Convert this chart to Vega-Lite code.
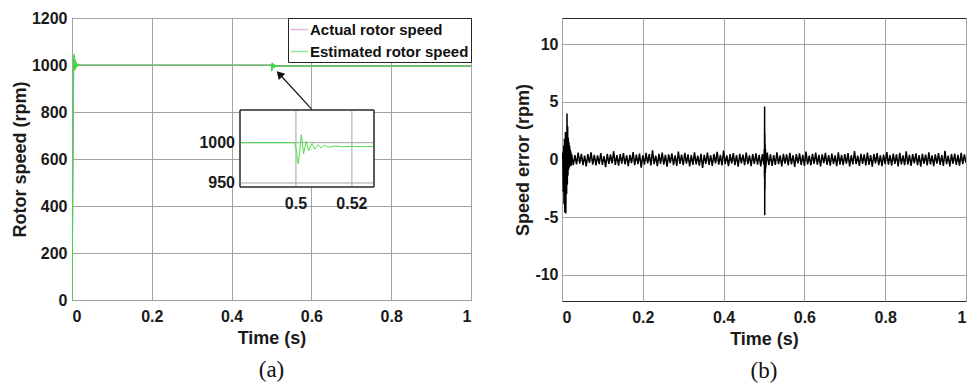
{
  "$schema": "https://vega.github.io/schema/vega-lite/v6.json",
  "padding": {"left": 10, "top": 9, "right": 4, "bottom": 0},
  "background": "white",
  "config": {
    "font": "Liberation Sans",
    "view": {"stroke": "#262626", "strokeWidth": 1},
    "axis": {
      "domain": false, "ticks": false, "grid": true, "gridColor": "#a3a3a3", "gridOpacity": 1,
      "labelFont": "Liberation Sans", "labelFontWeight": "bold", "labelFontSize": 16, "labelColor": "#1a1a1a",
      "titleFont": "Liberation Sans", "titleFontWeight": "bold", "titleFontSize": 18, "titleColor": "#1a1a1a"
    },
    "axisX": {"labelPadding": 8, "titlePadding": 5},
    "axisY": {"labelPadding": 5, "titlePadding": 2}
  },
  "datasets": {
    "speed": [
      {"t": 0, "v": 0, "s": "Actual rotor speed"},
      {"t": 0.002, "v": 500, "s": "Actual rotor speed"},
      {"t": 0.004, "v": 990, "s": "Actual rotor speed"},
      {"t": 0.0055, "v": 1040, "s": "Actual rotor speed"},
      {"t": 0.0075, "v": 985, "s": "Actual rotor speed"},
      {"t": 0.0095, "v": 1010, "s": "Actual rotor speed"},
      {"t": 0.012, "v": 998, "s": "Actual rotor speed"},
      {"t": 0.02, "v": 1000, "s": "Actual rotor speed"},
      {"t": 0.4995, "v": 1000, "s": "Actual rotor speed"},
      {"t": 0.5008, "v": 976, "s": "Actual rotor speed"},
      {"t": 0.5019, "v": 1008, "s": "Actual rotor speed"},
      {"t": 0.5027, "v": 987, "s": "Actual rotor speed"},
      {"t": 0.5037, "v": 1001, "s": "Actual rotor speed"},
      {"t": 0.5045, "v": 991, "s": "Actual rotor speed"},
      {"t": 0.5058, "v": 998, "s": "Actual rotor speed"},
      {"t": 0.5067, "v": 993, "s": "Actual rotor speed"},
      {"t": 0.508, "v": 997, "s": "Actual rotor speed"},
      {"t": 0.51, "v": 995.5, "s": "Actual rotor speed"},
      {"t": 1, "v": 995.5, "s": "Actual rotor speed"},
      {"t": 0, "v": 0, "s": "Estimated rotor speed"},
      {"t": 0.001, "v": 240, "s": "Estimated rotor speed"},
      {"t": 0.002, "v": 510, "s": "Estimated rotor speed"},
      {"t": 0.003, "v": 780, "s": "Estimated rotor speed"},
      {"t": 0.0038, "v": 960, "s": "Estimated rotor speed"},
      {"t": 0.0045, "v": 1030, "s": "Estimated rotor speed"},
      {"t": 0.0055, "v": 1048, "s": "Estimated rotor speed"},
      {"t": 0.0065, "v": 1020, "s": "Estimated rotor speed"},
      {"t": 0.0075, "v": 977, "s": "Estimated rotor speed"},
      {"t": 0.0085, "v": 1022, "s": "Estimated rotor speed"},
      {"t": 0.0095, "v": 985, "s": "Estimated rotor speed"},
      {"t": 0.0105, "v": 1012, "s": "Estimated rotor speed"},
      {"t": 0.0115, "v": 992, "s": "Estimated rotor speed"},
      {"t": 0.0125, "v": 1006, "s": "Estimated rotor speed"},
      {"t": 0.014, "v": 997, "s": "Estimated rotor speed"},
      {"t": 0.016, "v": 1002, "s": "Estimated rotor speed"},
      {"t": 0.02, "v": 1000, "s": "Estimated rotor speed"},
      {"t": 0.48, "v": 1000, "s": "Estimated rotor speed"},
      {"t": 0.4995, "v": 1000, "s": "Estimated rotor speed"},
      {"t": 0.5002, "v": 990, "s": "Estimated rotor speed"},
      {"t": 0.5005, "v": 978, "s": "Estimated rotor speed"},
      {"t": 0.5008, "v": 974, "s": "Estimated rotor speed"},
      {"t": 0.5013, "v": 988, "s": "Estimated rotor speed"},
      {"t": 0.5019, "v": 1010, "s": "Estimated rotor speed"},
      {"t": 0.5023, "v": 1000, "s": "Estimated rotor speed"},
      {"t": 0.5027, "v": 986, "s": "Estimated rotor speed"},
      {"t": 0.5032, "v": 994, "s": "Estimated rotor speed"},
      {"t": 0.5037, "v": 1002, "s": "Estimated rotor speed"},
      {"t": 0.5041, "v": 996, "s": "Estimated rotor speed"},
      {"t": 0.5045, "v": 990, "s": "Estimated rotor speed"},
      {"t": 0.5051, "v": 995, "s": "Estimated rotor speed"},
      {"t": 0.5058, "v": 999, "s": "Estimated rotor speed"},
      {"t": 0.5062, "v": 996, "s": "Estimated rotor speed"},
      {"t": 0.5067, "v": 992, "s": "Estimated rotor speed"},
      {"t": 0.5073, "v": 995, "s": "Estimated rotor speed"},
      {"t": 0.5079, "v": 997.5, "s": "Estimated rotor speed"},
      {"t": 0.5085, "v": 995, "s": "Estimated rotor speed"},
      {"t": 0.509, "v": 993.5, "s": "Estimated rotor speed"},
      {"t": 0.5096, "v": 995.5, "s": "Estimated rotor speed"},
      {"t": 0.5102, "v": 997, "s": "Estimated rotor speed"},
      {"t": 0.511, "v": 995, "s": "Estimated rotor speed"},
      {"t": 0.512, "v": 994.5, "s": "Estimated rotor speed"},
      {"t": 0.514, "v": 996, "s": "Estimated rotor speed"},
      {"t": 0.516, "v": 995, "s": "Estimated rotor speed"},
      {"t": 0.52, "v": 995.5, "s": "Estimated rotor speed"},
      {"t": 0.524, "v": 995, "s": "Estimated rotor speed"},
      {"t": 0.5279, "v": 995.3, "s": "Estimated rotor speed"},
      {"t": 1, "v": 995.5, "s": "Estimated rotor speed"}
    ],
    "err": [
      {"t": 0, "e": 0}, {"t": 0.001, "e": 0.1}, {"t": 0.002, "e": 0.6}, {"t": 0.003, "e": -2.8},
      {"t": 0.004, "e": 1.2}, {"t": 0.005, "e": -3.9}, {"t": 0.006, "e": 1.8}, {"t": 0.007, "e": -4.6},
      {"t": 0.0085, "e": 2.4}, {"t": 0.0095, "e": -4.7}, {"t": 0.0105, "e": 1.6}, {"t": 0.0115, "e": -3.0},
      {"t": 0.0124, "e": 4.0}, {"t": 0.0132, "e": -2.2}, {"t": 0.014, "e": 2.9}, {"t": 0.0148, "e": -1.4},
      {"t": 0.0156, "e": 1.9}, {"t": 0.0164, "e": -0.9}, {"t": 0.0172, "e": 1.5}, {"t": 0.018, "e": -0.7},
      {"t": 0.0188, "e": 1.2}, {"t": 0.0196, "e": -0.6}, {"t": 0.0204, "e": 0.9}, {"t": 0.0212, "e": -0.5},
      {"t": 0.022, "e": 0.7}, {"t": 0.0228, "e": -0.55},
      {"t": 0.024, "e": 0.45}, {"t": 0.028, "e": -0.5}, {"t": 0.032, "e": 0.38}, {"t": 0.036, "e": -0.42},
      {"t": 0.04, "e": 0.6}, {"t": 0.044, "e": -0.35}, {"t": 0.048, "e": 0.5}, {"t": 0.052, "e": -0.48},
      {"t": 0.056, "e": 0.33}, {"t": 0.06, "e": -0.6}, {"t": 0.064, "e": 0.47}, {"t": 0.068, "e": -0.3},
      {"t": 0.072, "e": 0.62}, {"t": 0.076, "e": -0.45}, {"t": 0.08, "e": 0.4}, {"t": 0.084, "e": -0.52},
      {"t": 0.088, "e": 0.36}, {"t": 0.092, "e": -0.4}, {"t": 0.096, "e": 0.55}, {"t": 0.1, "e": -0.47},
      {"t": 0.104, "e": 0.3}, {"t": 0.108, "e": -0.66}, {"t": 0.112, "e": 0.5}, {"t": 0.116, "e": -0.38},
      {"t": 0.12, "e": 0.44}, {"t": 0.124, "e": -0.33}, {"t": 0.128, "e": 0.72}, {"t": 0.132, "e": -0.46},
      {"t": 0.136, "e": 0.39}, {"t": 0.14, "e": -0.54}, {"t": 0.144, "e": 0.47}, {"t": 0.148, "e": -0.36},
      {"t": 0.152, "e": 0.56}, {"t": 0.156, "e": -0.43}, {"t": 0.16, "e": 0.35}, {"t": 0.164, "e": -0.58},
      {"t": 0.168, "e": 0.41}, {"t": 0.172, "e": -0.31}, {"t": 0.176, "e": 0.64}, {"t": 0.18, "e": -0.49},
      {"t": 0.184, "e": 0.43}, {"t": 0.188, "e": -0.4}, {"t": 0.192, "e": 0.52}, {"t": 0.196, "e": -0.7},
      {"t": 0.2, "e": 0.37}, {"t": 0.204, "e": -0.45}, {"t": 0.208, "e": 0.58}, {"t": 0.212, "e": -0.34},
      {"t": 0.216, "e": 0.46}, {"t": 0.22, "e": -0.52}, {"t": 0.224, "e": 0.8}, {"t": 0.228, "e": -0.41},
      {"t": 0.232, "e": 0.33}, {"t": 0.236, "e": -0.57}, {"t": 0.24, "e": 0.49}, {"t": 0.244, "e": -0.37},
      {"t": 0.248, "e": 0.6}, {"t": 0.252, "e": -0.44}, {"t": 0.256, "e": 0.4}, {"t": 0.26, "e": -0.62},
      {"t": 0.264, "e": 0.45}, {"t": 0.268, "e": -0.32}, {"t": 0.272, "e": 0.53}, {"t": 0.276, "e": -0.48},
      {"t": 0.28, "e": 0.36}, {"t": 0.284, "e": -0.55}, {"t": 0.288, "e": 0.68}, {"t": 0.292, "e": -0.39},
      {"t": 0.296, "e": 0.42}, {"t": 0.3, "e": -0.5}, {"t": 0.304, "e": 0.57}, {"t": 0.308, "e": -0.35},
      {"t": 0.312, "e": 0.44}, {"t": 0.316, "e": -0.6}, {"t": 0.32, "e": 0.38}, {"t": 0.324, "e": -0.46},
      {"t": 0.328, "e": 0.62}, {"t": 0.332, "e": -0.42}, {"t": 0.336, "e": 0.34}, {"t": 0.34, "e": -0.53},
      {"t": 0.344, "e": 0.5}, {"t": 0.348, "e": -0.74}, {"t": 0.352, "e": 0.41}, {"t": 0.356, "e": -0.38},
      {"t": 0.36, "e": 0.59}, {"t": 0.364, "e": -0.47}, {"t": 0.368, "e": 0.37}, {"t": 0.372, "e": -0.56},
      {"t": 0.376, "e": 0.48}, {"t": 0.38, "e": -0.33}, {"t": 0.384, "e": 0.66}, {"t": 0.388, "e": -0.45},
      {"t": 0.392, "e": 0.4}, {"t": 0.396, "e": -0.51}, {"t": 0.4, "e": 0.77}, {"t": 0.404, "e": -0.4},
      {"t": 0.408, "e": 0.35}, {"t": 0.412, "e": -0.58}, {"t": 0.416, "e": 0.46}, {"t": 0.42, "e": -0.36},
      {"t": 0.424, "e": 0.55}, {"t": 0.428, "e": -0.49}, {"t": 0.432, "e": 0.39}, {"t": 0.436, "e": -0.63},
      {"t": 0.44, "e": 0.5}, {"t": 0.444, "e": -0.34}, {"t": 0.448, "e": 0.43}, {"t": 0.452, "e": -0.5},
      {"t": 0.456, "e": 0.61}, {"t": 0.46, "e": -0.41}, {"t": 0.464, "e": 0.36}, {"t": 0.468, "e": -0.57},
      {"t": 0.472, "e": 0.47}, {"t": 0.476, "e": -0.38}, {"t": 0.48, "e": 0.54}, {"t": 0.484, "e": -0.45},
      {"t": 0.488, "e": 0.4}, {"t": 0.492, "e": -0.6}, {"t": 0.496, "e": 0.48}, {"t": 0.4995, "e": -0.42},
      {"t": 0.5008, "e": 0.9}, {"t": 0.5012, "e": -1.6}, {"t": 0.5015, "e": 4.6}, {"t": 0.5018, "e": -4.85},
      {"t": 0.5021, "e": 2.3}, {"t": 0.5024, "e": -2.6}, {"t": 0.5028, "e": 1.4}, {"t": 0.5032, "e": -1.2},
      {"t": 0.5036, "e": 0.9}, {"t": 0.504, "e": -0.8}, {"t": 0.508, "e": 0.6}, {"t": 0.512, "e": -0.5},
      {"t": 0.516, "e": 0.44}, {"t": 0.52, "e": -0.55}, {"t": 0.524, "e": 0.38}, {"t": 0.528, "e": -0.47},
      {"t": 0.532, "e": 0.63}, {"t": 0.536, "e": -0.4}, {"t": 0.54, "e": 0.35}, {"t": 0.544, "e": -0.59},
      {"t": 0.548, "e": 0.5}, {"t": 0.552, "e": -0.36}, {"t": 0.556, "e": 0.45}, {"t": 0.56, "e": -0.52},
      {"t": 0.564, "e": 0.58}, {"t": 0.568, "e": -0.43}, {"t": 0.572, "e": 0.37}, {"t": 0.576, "e": -0.64},
      {"t": 0.58, "e": 0.46}, {"t": 0.584, "e": -0.33}, {"t": 0.588, "e": 0.54}, {"t": 0.592, "e": -0.48},
      {"t": 0.596, "e": 0.4}, {"t": 0.6, "e": -0.56}, {"t": 0.604, "e": 0.69}, {"t": 0.608, "e": -0.42},
      {"t": 0.612, "e": 0.34}, {"t": 0.616, "e": -0.5}, {"t": 0.62, "e": 0.49}, {"t": 0.624, "e": -0.37},
      {"t": 0.628, "e": 0.6}, {"t": 0.632, "e": -0.45}, {"t": 0.636, "e": 0.41}, {"t": 0.64, "e": -0.61},
      {"t": 0.644, "e": 0.44}, {"t": 0.648, "e": -0.32}, {"t": 0.652, "e": 0.57}, {"t": 0.656, "e": -0.47},
      {"t": 0.66, "e": 0.38}, {"t": 0.664, "e": -0.54}, {"t": 0.668, "e": 0.52}, {"t": 0.672, "e": -0.39},
      {"t": 0.676, "e": 0.35}, {"t": 0.68, "e": -0.58}, {"t": 0.684, "e": 0.62}, {"t": 0.688, "e": -0.44},
      {"t": 0.692, "e": 0.4}, {"t": 0.696, "e": -0.5}, {"t": 0.7, "e": 0.47}, {"t": 0.704, "e": -0.35},
      {"t": 0.708, "e": 0.56}, {"t": 0.712, "e": -0.6}, {"t": 0.716, "e": 0.37}, {"t": 0.72, "e": -0.43},
      {"t": 0.724, "e": 0.73}, {"t": 0.728, "e": -0.41}, {"t": 0.732, "e": 0.33}, {"t": 0.736, "e": -0.55},
      {"t": 0.74, "e": 0.5}, {"t": 0.744, "e": -0.38}, {"t": 0.748, "e": 0.45}, {"t": 0.752, "e": -0.52},
      {"t": 0.756, "e": 0.6}, {"t": 0.76, "e": -0.46}, {"t": 0.764, "e": 0.39}, {"t": 0.768, "e": -0.63},
      {"t": 0.772, "e": 0.48}, {"t": 0.776, "e": -0.34}, {"t": 0.78, "e": 0.55}, {"t": 0.784, "e": -0.49},
      {"t": 0.788, "e": 0.36}, {"t": 0.792, "e": -0.57}, {"t": 0.796, "e": 0.43}, {"t": 0.8, "e": -0.4},
      {"t": 0.804, "e": 0.65}, {"t": 0.808, "e": -0.45}, {"t": 0.812, "e": 0.38}, {"t": 0.816, "e": -0.53},
      {"t": 0.82, "e": 0.51}, {"t": 0.824, "e": -0.37}, {"t": 0.828, "e": 0.44}, {"t": 0.832, "e": -0.6},
      {"t": 0.836, "e": 0.58}, {"t": 0.84, "e": -0.42}, {"t": 0.844, "e": 0.35}, {"t": 0.848, "e": -0.5},
      {"t": 0.852, "e": 0.7}, {"t": 0.856, "e": -0.44}, {"t": 0.86, "e": 0.4}, {"t": 0.864, "e": -0.56},
      {"t": 0.868, "e": 0.47}, {"t": 0.872, "e": -0.33}, {"t": 0.876, "e": 0.53}, {"t": 0.88, "e": -0.48},
      {"t": 0.884, "e": 0.37}, {"t": 0.888, "e": -0.62}, {"t": 0.892, "e": 0.49}, {"t": 0.896, "e": -0.39},
      {"t": 0.9, "e": 0.42}, {"t": 0.904, "e": -0.51}, {"t": 0.908, "e": 0.63}, {"t": 0.912, "e": -0.43},
      {"t": 0.916, "e": 0.36}, {"t": 0.92, "e": -0.58}, {"t": 0.924, "e": 0.45}, {"t": 0.928, "e": -0.35},
      {"t": 0.932, "e": 0.56}, {"t": 0.936, "e": -0.47}, {"t": 0.94, "e": 0.39}, {"t": 0.944, "e": -0.55},
      {"t": 0.948, "e": 0.75}, {"t": 0.952, "e": -0.41}, {"t": 0.956, "e": 0.34}, {"t": 0.96, "e": -0.59},
      {"t": 0.964, "e": 0.48}, {"t": 0.968, "e": -0.37}, {"t": 0.972, "e": 0.52}, {"t": 0.976, "e": -0.46},
      {"t": 0.98, "e": 0.41}, {"t": 0.984, "e": -0.53}, {"t": 0.988, "e": 0.57}, {"t": 0.992, "e": -0.4},
      {"t": 0.996, "e": 0.44}, {"t": 1, "e": -0.3}
    ]
  },
  "spacing": 42,
  "resolve": {"scale": {"color": "independent"}, "legend": {"color": "independent"}},
  "hconcat": [
    {
      "width": 399,
      "height": 282,
      "title": {"text": "(a)", "orient": "bottom", "frame": "group", "anchor": "middle", "font": "Liberation Serif", "fontSize": 23, "fontWeight": "normal", "color": "#111", "offset": 12},
      "resolve": {"scale": {"x": "independent", "y": "independent"}},
      "layer": [
        {
          "layer": [
            {
              "data": {"name": "speed"},
              "mark": {"type": "line", "strokeWidth": 1.2, "clip": true},
              "encoding": {
                "x": {"field": "t", "type": "quantitative", "scale": {"domain": [0, 1], "nice": false}, "axis": {"values": [0, 0.2, 0.4, 0.6, 0.8, 1], "format": "~g", "title": "Time (s)"}},
                "y": {"field": "v", "type": "quantitative", "scale": {"domain": [0, 1200], "nice": false}, "axis": {"values": [0, 200, 400, 600, 800, 1000, 1200], "format": "d", "title": "Rotor speed (rpm)"}},
                "color": {
                  "field": "s", "type": "nominal",
                  "scale": {"domain": ["Actual rotor speed", "Estimated rotor speed"], "range": ["#d27ad2", "#3ddc3d"]},
                  "legend": {
                    "title": null, "orient": "top-right", "offset": 0, "padding": 2,
                    "strokeColor": "#262626", "fillColor": "white", "cornerRadius": 0,
                    "symbolType": "stroke", "symbolSize": 300, "symbolStrokeWidth": 1.5, "symbolOpacity": 0.55,
                    "labelFont": "Liberation Sans", "labelFontWeight": "bold", "labelFontSize": 15, "labelColor": "#111",
                    "labelOffset": 1, "labelLimit": 220, "rowPadding": 4
                  }
                }
              }
            },
            {
              "data": {"values": [{}]},
              "mark": {"type": "rule", "color": "#111", "strokeWidth": 1.2},
              "encoding": {"x": {"datum": 0.6}, "y": {"datum": 813}, "x2": {"datum": 0.5198}, "y2": {"datum": 961.7}}
            },
            {
              "data": {"values": [{}]},
              "mark": {"type": "point", "shape": "triangle-up", "filled": true, "color": "#111", "opacity": 1, "size": 80, "angle": 317},
              "encoding": {"x": {"datum": 0.5198}, "y": {"datum": 961.7}}
            }
          ]
        },
        {
          "encoding": {
            "x": {"type": "quantitative", "scale": {"domain": [0.48, 0.5279], "range": [168, 302], "nice": false, "zero": false}, "axis": null},
            "y": {"type": "quantitative", "scale": {"domain": [945, 1040.6], "range": [169, 92], "nice": false, "zero": false}, "axis": null}
          },
          "layer": [
            {
              "data": {"values": [{}]},
              "mark": {"type": "rect", "fill": "white", "stroke": "#262626", "strokeWidth": 1},
              "encoding": {"x": {"datum": 0.48}, "x2": {"datum": 0.5279}, "y": {"datum": 945}, "y2": {"datum": 1040.6}}
            },
            {
              "data": {"values": [{"g": 0.5}, {"g": 0.52}]},
              "mark": {"type": "rule", "color": "#a3a3a3", "strokeWidth": 1},
              "encoding": {"x": {"field": "g"}, "y": {"datum": 945}, "y2": {"datum": 1040.6}}
            },
            {
              "data": {"values": [{"h": 950}, {"h": 1000}]},
              "mark": {"type": "rule", "color": "#a3a3a3", "strokeWidth": 1},
              "encoding": {"y": {"field": "h"}, "x": {"datum": 0.48}, "x2": {"datum": 0.5279}}
            },
            {
              "data": {"name": "speed"},
              "transform": [{"filter": {"field": "s", "equal": "Estimated rotor speed"}}, {"filter": {"field": "t", "range": [0.48, 0.5279]}}],
              "mark": {"type": "line", "color": "#4ede4e", "strokeWidth": 1},
              "encoding": {"x": {"field": "t"}, "y": {"field": "v"}}
            },
            {
              "data": {"values": [{}]},
              "mark": {"type": "rect", "fillOpacity": 0, "stroke": "#262626", "strokeWidth": 1},
              "encoding": {"x": {"datum": 0.48}, "x2": {"datum": 0.5279}, "y": {"datum": 945}, "y2": {"datum": 1040.6}}
            },
            {
              "data": {"values": [{"h": 1000, "lab": "1000"}, {"h": 950, "lab": "950"}]},
              "mark": {"type": "text", "align": "right", "baseline": "middle", "dx": -5, "font": "Liberation Sans", "fontWeight": "bold", "fontSize": 16, "color": "#1a1a1a"},
              "encoding": {"y": {"field": "h"}, "x": {"datum": 0.48}, "text": {"field": "lab"}}
            },
            {
              "data": {"values": [{"g": 0.5, "lab": "0.5"}, {"g": 0.52, "lab": "0.52"}]},
              "mark": {"type": "text", "align": "center", "baseline": "middle", "dy": 17, "font": "Liberation Sans", "fontWeight": "bold", "fontSize": 16, "color": "#1a1a1a"},
              "encoding": {"x": {"field": "g"}, "y": {"datum": 945}, "text": {"field": "lab"}}
            }
          ]
        }
      ]
    },
    {
      "width": 404,
      "height": 283,
      "title": {"text": "(b)", "orient": "bottom", "frame": "group", "anchor": "middle", "font": "Liberation Serif", "fontSize": 23, "fontWeight": "normal", "color": "#111", "offset": 12},
      "data": {"name": "err"},
      "mark": {"type": "line", "color": "#000", "strokeWidth": 1.5, "clip": true},
      "encoding": {
        "x": {"field": "t", "type": "quantitative", "scale": {"domain": [0, 1], "nice": false}, "axis": {"values": [0, 0.2, 0.4, 0.6, 0.8, 1], "format": "~g", "title": "Time (s)"}},
        "y": {"field": "e", "type": "quantitative", "scale": {"domain": [-12.3, 12.3], "nice": false, "zero": false}, "axis": {"values": [-10, -5, 0, 5, 10], "labelExpr": "'' + datum.value", "title": "Speed error (rpm)", "labelPadding": 4}}
      }
    }
  ]
}
